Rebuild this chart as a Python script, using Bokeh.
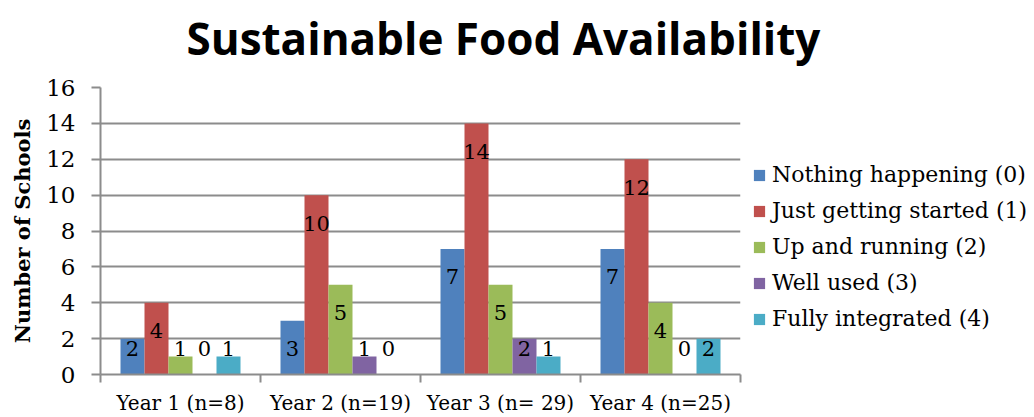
from bokeh.plotting import figure
from bokeh.models import FixedTicker, Legend, LegendItem, ColumnDataSource, Title
from bokeh.core.properties import value
from bokeh.embed import file_html
from bokeh.resources import INLINE
import numpy as np

years = ["Year 1 (n=8)", "Year 2 (n=19)", "Year 3 (n= 29)", "Year 4 (n=25)"]
series = ["Nothing happening (0)", "Just getting started (1)", "Up and running (2)",
          "Well used (3)", "Fully integrated (4)"]
nothing_happening = [2, 3, 7, 7]
just_getting_started = [4, 10, 14, 12]
up_and_running = [1, 5, 5, 4]
well_used = [0, 1, 2, 0]
fully_integrated = [1, 0, 1, 2]
values = [nothing_happening, just_getting_started, up_and_running, well_used, fully_integrated]
colors = ["#4F81BD", "#C0504D", "#9BBB59", "#8064A2", "#4BACC6"]

SERIF = "DejaVu Serif"
GRID = "#8c8c8c"

p = figure(frame_width=640, frame_height=287, output_backend="svg", toolbar_location=None,
           x_range=(0.5, 4.5), y_range=(0, 16),
           min_border_left=100, min_border_right=0, min_border_top=0, min_border_bottom=43)
p.outline_line_color = None
p.background_fill_color = "white"

xs = np.arange(1, len(years) + 1)
bw = 0.15
offsets = [-0.3, -0.15, 0.0, 0.15, 0.3]
items = []
for s, vals, c, off in zip(series, values, colors, offsets):
    src = ColumnDataSource(dict(x=xs + off, top=vals, lab=[str(v) for v in vals],
                                ly=np.maximum(vals, 3)))
    r = p.vbar(x="x", top="top", width=bw, bottom=0, source=src, fill_color=c,
               line_color=None)
    p.text(x="x", y="ly", text="lab", source=src, text_align="center",
           text_baseline="middle", y_offset=28, text_font=value(SERIF),
           text_font_size="21px", text_color="black")
    items.append(LegendItem(label=s, renderers=[r]))

# axes
p.xgrid.visible = False
p.ygrid.grid_line_color = GRID
p.ygrid.grid_line_width = 2
p.yaxis.ticker = FixedTicker(ticks=list(range(0, 17, 2)))
p.yaxis.axis_line_color = GRID
p.yaxis.axis_line_width = 2
p.yaxis.major_tick_line_color = GRID
p.yaxis.major_tick_line_width = 2
p.yaxis.major_tick_out = 9
p.yaxis.major_tick_in = 0
p.yaxis.minor_tick_line_color = None
p.yaxis.major_label_text_font = SERIF
p.yaxis.major_label_text_font_size = "23px"
p.yaxis.major_label_text_color = "black"
p.yaxis.major_label_standoff = 16
p.yaxis.axis_label = "Number of Schools"
p.yaxis.axis_label_text_font = SERIF
p.yaxis.axis_label_text_font_style = "bold"
p.yaxis.axis_label_text_font_size = "21px"
p.yaxis.axis_label_text_color = "black"
p.yaxis.axis_label_standoff = 8

p.xaxis.ticker = FixedTicker(ticks=list(xs), minor_ticks=[0.5, 1.5, 2.5, 3.5, 4.5])
p.xaxis.major_label_overrides = {int(i): y for i, y in zip(xs, years)}
p.xaxis.axis_line_color = GRID
p.xaxis.axis_line_width = 2
p.xaxis.major_tick_line_color = None
p.xaxis.minor_tick_line_color = GRID
p.xaxis.minor_tick_line_width = 2
p.xaxis.minor_tick_out = 8
p.xaxis.minor_tick_in = 0
p.xaxis.major_label_text_font = SERIF
p.xaxis.major_label_text_font_size = "20px"
p.xaxis.major_label_text_color = "black"
p.xaxis.major_label_standoff = 8

legend = Legend(items=items, location=(12, 43), border_line_color=None,
                background_fill_alpha=0, label_text_font=SERIF,
                label_text_font_size="22px", label_text_color="black",
                glyph_width=14, glyph_height=14, spacing=11, padding=0, margin=0,
                label_standoff=6, label_height=20)
p.add_layout(legend, "right")

# main title outermost, small spacer between it and the frame
p.title = Title(text="Sustainable Food Availability", align="left", offset=86,
                text_font="Open Sans", text_font_style="bold", text_font_size="44px",
                text_color="black")
spacer = Title(text=" ", text_font_size="5px")
if "standoff" in Title.properties():
    spacer.standoff = 7
p.add_layout(spacer, "above")

open("out.html", "w").write(file_html(p, INLINE))
